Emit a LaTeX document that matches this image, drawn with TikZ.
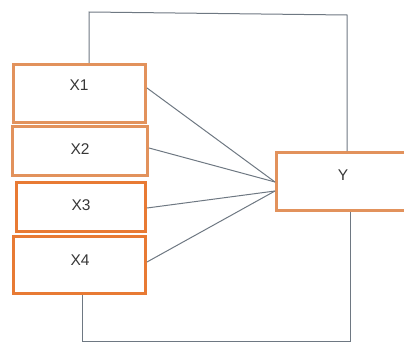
\documentclass[tikz,border=0pt]{standalone}
\usepackage{fontspec}
\setmainfont{Liberation Sans}
\usetikzlibrary{calc}
\definecolor{boxA}{RGB}{226,146,92}
\definecolor{boxB}{RGB}{232,122,52}
\definecolor{lineC}{RGB}{110,120,130}
\definecolor{txtC}{RGB}{55,55,55}
\begin{document}
\begin{tikzpicture}[x=1pt,y=-1pt,
  vbox/.style={draw=boxA,line width=3pt,inner sep=0pt,outer sep=0pt},
  vboxb/.style={vbox,draw=boxB},
  openbox/.style={draw=boxA,line width=3pt,line join=miter},
  lbl/.style={anchor=base,inner sep=0pt,text=txtC,font=\fontsize{15.5}{18}\selectfont},
  conn/.style={draw=lineC,line width=1pt}]
\useasboundingbox (0,0) rectangle (404,342);
\coordinate (ya) at (275,182);
\coordinate (yb) at (275,191);
\coordinate (ta) at (89,12);
\coordinate (tb) at (347,15);
\coordinate (ba) at (82,341);
\coordinate (bb) at (350,341);
\coordinate (edge) at (404,0);
% boxes
\node[vbox,minimum width=132,minimum height=58] (x1) at (79.5,93.5) {};
\node[vbox,minimum width=135,minimum height=49] (x2) at (80,151) {};
\node[vboxb,minimum width=129,minimum height=49] (x3) at (81,207) {};
\node[vboxb,minimum width=132,minimum height=57] (x4) at (79.5,265) {};
\node[inner sep=0pt,outer sep=0pt,minimum width=128,minimum height=58] (y) at (340.5,181.5) {};
\draw[openbox] (y.north -| edge) -- (y.north west) -- (y.south west) -- (y.south -| edge);
% labels
\node[lbl] (l1) at (79,90.5) {X1};
\node[lbl] (l2) at (80,154) {X2};
\node[lbl] (l3) at (81,210) {X3};
\node[lbl] (l4) at (80,265) {X4};
\node[lbl] (ly) at (343,180) {Y};
% lines
\draw[conn] ($(x1.east)+(1.5,-5.5)$) -- (ya);
\draw[conn] ($(x2.east)+(1.5,-3)$) -- (ya);
\draw[conn] ($(x3.east)+(1.5,1)$) -- (yb);
\draw[conn] ($(x4.east)+(1.5,-3)$) -- (yb);
\draw[conn] ($(x1.north -| ta)+(0,-1.5)$) -- (ta) -- (tb) -- ($(y.north -| tb)+(0,-1.5)$);
\draw[conn] ($(x4.south -| ba)+(0,1.5)$) -- (ba) -- (bb) -- ($(y.south -| bb)+(0,1.5)$);
\end{tikzpicture}
\end{document}
